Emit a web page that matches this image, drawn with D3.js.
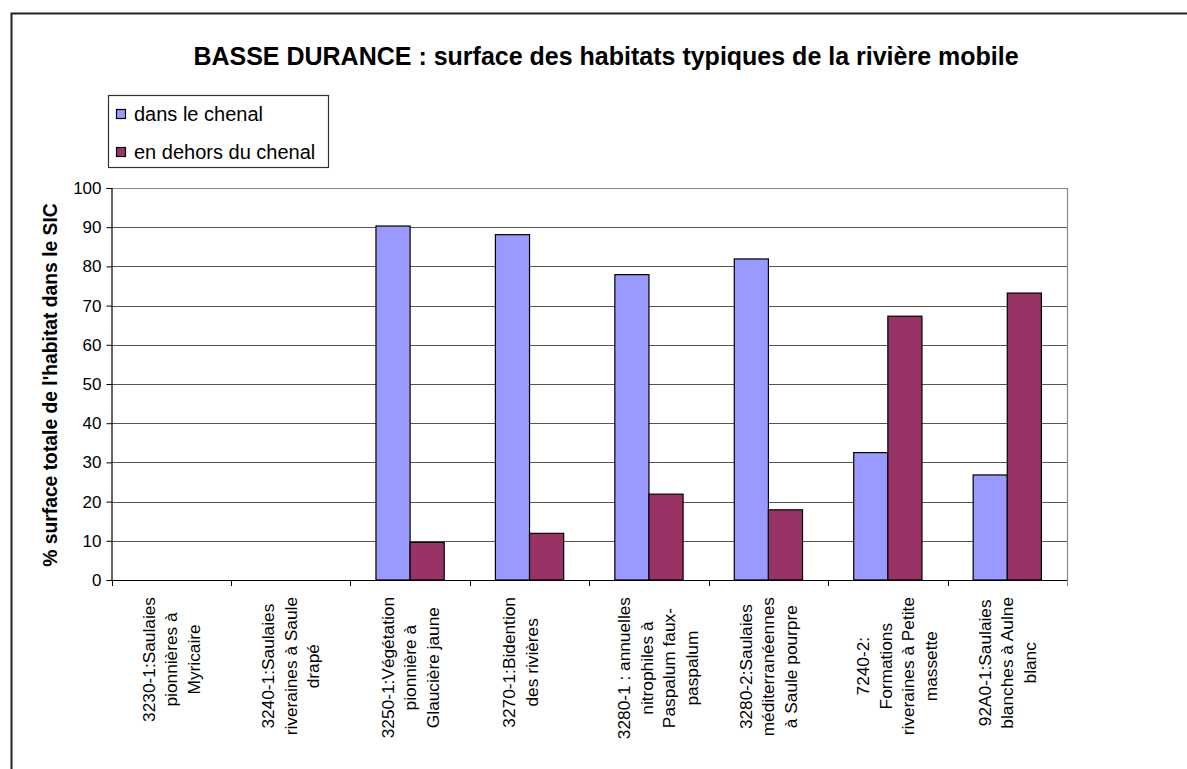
<!DOCTYPE html>
<html>
<head>
<meta charset="utf-8">
<script src="https://cdn.jsdelivr.net/npm/d3@7"></script>
<style>
  html, body { margin: 0; padding: 0; background: #fff; }
  svg { display: block; font-family: "Liberation Sans", Arial, sans-serif; }
</style>
</head>
<body>
<svg id="chart" width="1187" height="769"></svg>
<script>
// Habitat categories (each label is split into its displayed lines)
const categoryLines = [
  ["3230-1:Saulaies", "pionnières à", "Myricaire"],
  ["3240-1:Saulaies", "riveraines à Saule", "drapé"],
  ["3250-1:Végétation", "pionnière  à", "Glaucière jaune"],
  ["3270-1:Bidention", "des rivières"],
  ["3280-1 : annuelles", "nitrophiles à", "Paspalum faux-", "paspalum"],
  ["3280-2:Saulaies", "méditerranéennes", "à Saule pourpre"],
  ["7240-2:", "Formations", "riveraines à Petite", "massette"],
  ["92A0-1:Saulaies", "blanches à Aulne", "blanc"]
];
const categories = categoryLines.map(l => l.join(" "));

const seriesNames = ["dans le chenal", "en dehors du chenal"];
const dansLeChenal = [0, 0, 90.3, 88.1, 77.9, 81.9, 32.5, 26.8];
const horsChenal   = [0, 0, 9.6, 11.9, 21.9, 17.9, 67.3, 73.2];
const seriesColors = ["#9999FF", "#993366"];

const yTicks = [0, 10, 20, 30, 40, 50, 60, 70, 80, 90, 100];
const titleText = "BASSE DURANCE : surface des habitats typiques de la rivière mobile";
const yTitle = "% surface totale de l'habitat dans le SIC";

const seriesValues = [dansLeChenal, horsChenal];
const svg = d3.select("#chart");

// Outer chart frame
svg.append("rect")
  .attr("x", 11.5).attr("y", 13.5)
  .attr("width", 1200).attr("height", 800)
  .attr("fill", "none").attr("stroke", "#222").attr("stroke-width", 2);

// Plot area
const plot = { left: 111.5, right: 1067, top: 188, bottom: 580 };

const x0 = d3.scaleBand().domain(categories).range([plot.left, plot.right]).padding(0);
const x1 = d3.scaleBand().domain(seriesNames).range([0, x0.bandwidth()])
  .paddingInner(0).paddingOuter(0.75);
const y = d3.scaleLinear().domain([0, 100]).range([plot.bottom, plot.top]);

// Horizontal gridlines
svg.append("g").selectAll("line")
  .data(yTicks.filter(t => t > 0 && t < 100))
  .join("line")
  .attr("x1", plot.left).attr("x2", plot.right)
  .attr("y1", d => Math.round(y(d)) + 0.5).attr("y2", d => Math.round(y(d)) + 0.5)
  .attr("stroke", "#555").attr("stroke-width", 1);

// Plot area top and right edges
svg.append("path")
  .attr("d", `M${plot.left},${Math.round(y(100)) + 0.5}H${plot.right + 0.5}V${plot.bottom}`)
  .attr("fill", "none").attr("stroke", "#888").attr("stroke-width", 1.2);

// Bars
const groups = svg.append("g").selectAll("g")
  .data(categories)
  .join("g")
  .attr("transform", d => `translate(${x0(d)},0)`);

groups.selectAll("rect")
  .data((d, i) => seriesNames.map((s, k) => ({ s, k, v: seriesValues[k][i] })))
  .join("rect")
  .attr("x", d => x1(d.s))
  .attr("width", x1.bandwidth())
  .attr("y", d => y(d.v))
  .attr("height", d => y(0) - y(d.v))
  .attr("fill", d => seriesColors[d.k])
  .attr("stroke", "#000").attr("stroke-width", 1.2);

// Y axis
const yAxis = d3.axisLeft(y).tickValues(yTicks).tickSize(5).tickPadding(5);
const gy = svg.append("g")
  .attr("transform", `translate(${plot.left},0)`)
  .call(yAxis);
gy.select(".domain").attr("stroke", "#000").attr("stroke-width", 1.2);
gy.selectAll(".tick line").attr("stroke", "#000");
gy.selectAll(".tick text")
  .attr("font-size", 17).attr("fill", "#000")
  .attr("font-family", "Liberation Sans, Arial, sans-serif");

// X axis line and category boundary ticks
svg.append("line")
  .attr("x1", plot.left).attr("x2", plot.right + 0.5)
  .attr("y1", plot.bottom + 0.5).attr("y2", plot.bottom + 0.5)
  .attr("stroke", "#000").attr("stroke-width", 1.2);

const boundaries = categories.map(c => x0(c)).concat([x0.range()[1]]);
svg.append("g").selectAll("line")
  .data(boundaries)
  .join("line")
  .attr("x1", d => Math.round(d) + 0.5).attr("x2", d => Math.round(d) + 0.5)
  .attr("y1", plot.bottom).attr("y2", plot.bottom + 6)
  .attr("stroke", d => d >= plot.right - 1 ? "#888" : "#000").attr("stroke-width", 1);

// Rotated, multi-line category labels
const labelFont = 17.3;
const lineGap = 22.6;
const measurer = svg.append("text").attr("font-size", labelFont).attr("visibility", "hidden");
function textWidth(s) { measurer.text(s); return measurer.node().getComputedTextLength(); }

categoryLines.forEach((lines, i) => {
  const cx = x0(categories[i]) + x0.bandwidth() / 2 + (lines.length - 3) * 9;
  const maxW = d3.max(lines, textWidth);
  const cy = plot.bottom + 17 + maxW / 2;
  const firstX = cx - (lines.length - 1) * lineGap / 2;
  const g = svg.append("g")
    .attr("transform", `translate(${firstX},${cy}) rotate(-90)`);
  g.selectAll("text")
    .data(lines)
    .join("text")
    .attr("x", 0)
    .attr("y", (d, k) => k * lineGap)
    .attr("dy", "0.35em")
    .attr("text-anchor", "middle")
    .attr("font-size", labelFont)
    .attr("fill", "#000")
    .text(d => d);
});
measurer.remove();

// Y axis title
svg.append("text")
  .attr("transform", `translate(50,${(plot.top + plot.bottom) / 2 + 1}) rotate(-90)`)
  .attr("text-anchor", "middle")
  .attr("dy", "0.35em")
  .attr("font-size", 19.3).attr("font-weight", "bold")
  .text(yTitle);

// Chart title
svg.append("text")
  .attr("x", 606).attr("y", 65)
  .attr("text-anchor", "middle")
  .attr("font-size", 25).attr("font-weight", "bold")
  .text(titleText);

// Legend
const legend = svg.append("g");
legend.append("rect")
  .attr("x", 108.5).attr("y", 95.5).attr("width", 220).attr("height", 72)
  .attr("fill", "#fff").attr("stroke", "#333").attr("stroke-width", 1.2);
const items = legend.selectAll("g.item")
  .data(seriesNames)
  .join("g").attr("class", "item")
  .attr("transform", (d, i) => `translate(116,${109 + i * 38})`);
items.append("rect")
  .attr("x", 0.5).attr("y", 0.5).attr("width", 9).attr("height", 9)
  .attr("fill", (d, i) => seriesColors[i])
  .attr("stroke", "#000").attr("stroke-width", 1.2);
items.append("text")
  .attr("x", 18).attr("y", 5).attr("dy", "0.36em")
  .attr("font-size", 20).attr("fill", "#000")
  .text(d => d);
</script>
</body>
</html>
